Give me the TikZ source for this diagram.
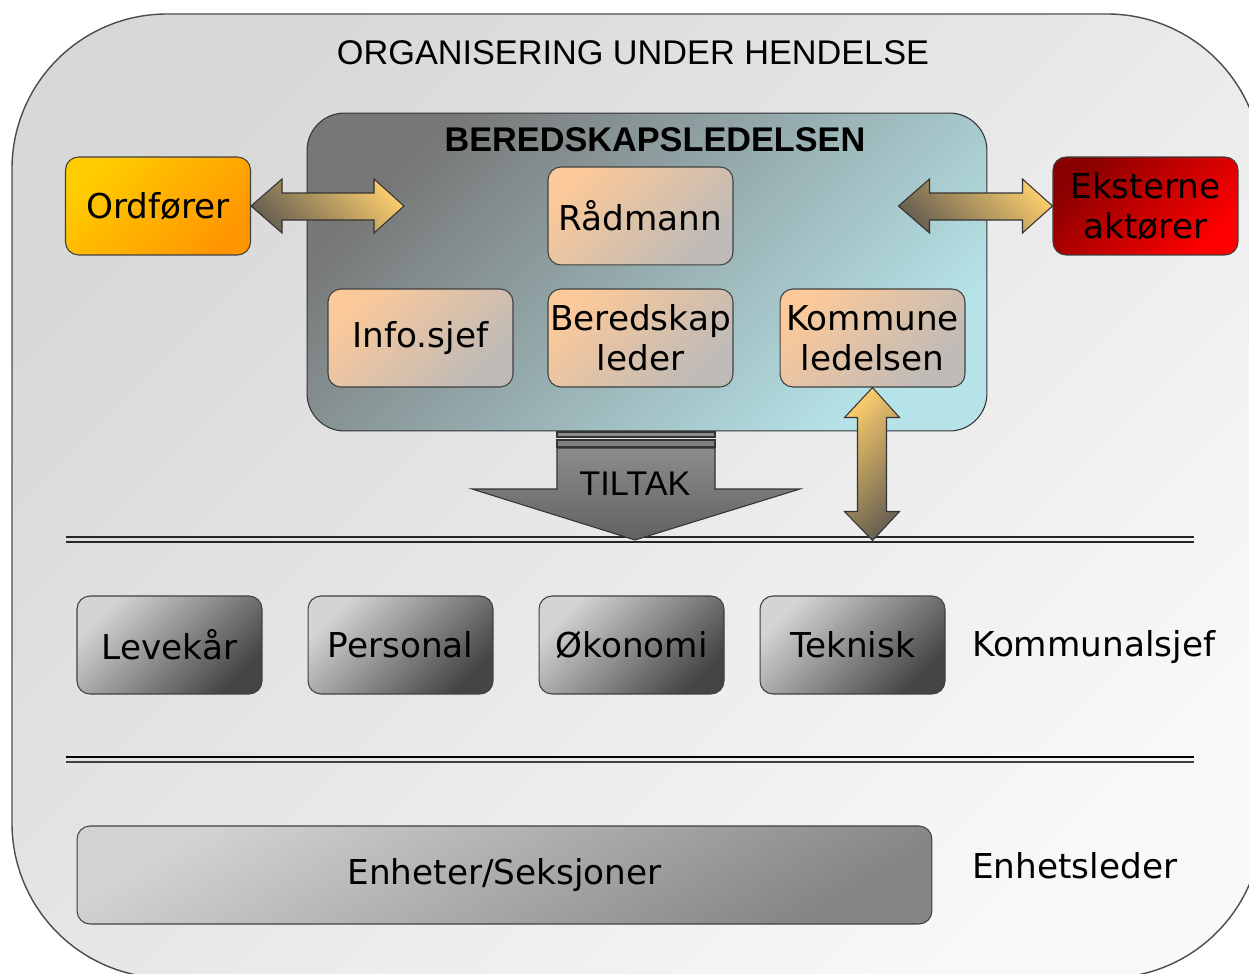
\documentclass[tikz,border=0pt]{standalone}
\usepackage{fontspec}
\setmainfont{DejaVu Sans}
\newfontfamily\arialfont{Liberation Sans}
\usetikzlibrary{positioning,calc}

\definecolor{outerA}{HTML}{D8D8D8}
\definecolor{outerB}{HTML}{F8F8F8}
\definecolor{beredA}{HTML}{777777}
\definecolor{beredB}{HTML}{B6E3E8}
\definecolor{peachA}{HTML}{FBC99A}
\definecolor{peachB}{HTML}{BDBAB8}
\definecolor{ordA}{HTML}{FFCC00}
\definecolor{ordB}{HTML}{FF9600}
\definecolor{eksA}{HTML}{8A0000}
\definecolor{eksB}{HTML}{FF0000}
\definecolor{unitA}{HTML}{D4D4D4}
\definecolor{unitB}{HTML}{454545}
\definecolor{enhA}{HTML}{D2D2D2}
\definecolor{enhB}{HTML}{858585}
\definecolor{goldA}{HTML}{F7CA6C}
\definecolor{goldB}{HTML}{6B6252}

\begin{document}
\begin{tikzpicture}[x=0.02cm, y=-0.02cm,
  txt/.style={font=\fontsize{19.5}{23}\selectfont},
  box/.style={txt, draw=black!75, line width=0.6pt, rounded corners=0.26cm,
    minimum width=3.7cm, minimum height=1.96cm, inner sep=0pt, align=center},
  peachbox/.style={box, top color=peachA, bottom color=peachB, shading angle=45},
  unitbox/.style={box, top color=unitA, bottom color=unitB, shading angle=45},
  fatarrow/.style={draw=black!80, line width=0.6pt, top color=goldA, bottom color=goldB},
  sepline/.style={black!85, line width=0.9pt}]
  \useasboundingbox (0,0) rectangle (1249,974);
  \clip (0,0) rectangle (1249,974);

  % outer frame
  \draw[black!70, line width=0.8pt, top color=outerA, bottom color=outerB, shading angle=45,
    rounded corners=3.1cm] (12,14) rectangle (1262,978);
  \node[font=\arialfont\fontsize{19.5}{23}\selectfont] (title) at (633,53) {ORGANISERING UNDER HENDELSE};

  % beredskapsledelsen
  \node[draw=black!80, line width=0.6pt, rounded corners=0.75cm, minimum width=13.6cm,
    minimum height=6.36cm, top color=beredA, bottom color=beredB, shading angle=45] (bered) at (647,272) {};
  \node[font=\arialfont\bfseries\fontsize{19.5}{23}\selectfont] (beredtitle) at (655,140) {BEREDSKAPSLEDELSEN};

  \node[peachbox] (bled) at (640.5,338) {Beredskap\\leder};
  \node[peachbox, above=0.46cm of bled] (rad) {Rådmann};
  \node[peachbox, left=0.68cm of bled] (info) {Info.sjef};
  \node[peachbox, right=0.92cm of bled] (kom) {Kommune\\ledelsen};

  \node[box, top color=ordA, bottom color=ordB, shading angle=45] (ord) at (158,206) {Ordfører};
  \node[box, top color=eksA, bottom color=eksB, shading angle=45] (eks) at (1145.5,206) {Eksterne\\aktører};

  % separator lines
  \coordinate (l1w) at (66,537);
  \coordinate (l1e) at (1194,537);
  \draw[sepline] (l1w) -- (l1e);
  \draw[sepline] ($(l1w)+(0,5)$) -- ($(l1e)+(0,5)$);
  \coordinate (l2w) at (66,757);
  \coordinate (l2e) at (1194,757);
  \draw[black, line width=1.4pt] (l2w) -- (l2e);
  \draw[black!75, line width=0.9pt] ($(l2w)+(0,5)$) -- ($(l2e)+(0,5)$);

  % arrows
  \draw[fatarrow, shading angle=-45] (ord.east) -- ++(31,-27) -- ++(0,14) -- ++(92,0) -- ++(0,-14)
    -- ++(30,27) -- ++(-30,27) -- ++(0,-13) -- ++(-92,0) -- ++(0,13) -- cycle;
  \draw[fatarrow, shading angle=-45] (eks.west) -- ++(-30,-27) -- ++(0,14) -- ++(-93,0) -- ++(0,-14)
    -- ++(-31,27) -- ++(31,27) -- ++(0,-13) -- ++(93,0) -- ++(0,13) -- cycle;
  \draw[fatarrow, shading angle=45] (kom.south) -- ++(27,30) -- ++(-13,0) -- ++(0,94) -- ++(13,0)
    -- ++(-27,29) -- ++(-28,-29) -- ++(13,0) -- ++(0,-94) -- ++(-13,0) -- cycle;

  % tiltak
  \coordinate (tip) at (635,540);
  \draw[black!80, line width=0.6pt, fill=black!45] (557,432) rectangle (715,437);
  \draw[black!80, line width=0.6pt, fill=black!50] (557,440) rectangle (715,447);
  \draw[black!80, line width=0.6pt, top color=black!45, bottom color=black!62]
    (557,448) -- (715,448) -- (715,489) -- (800,489) -- (tip) -- (472,489) -- (557,489) -- cycle;
  \node[font=\arialfont\fontsize{19.5}{23}\selectfont] (tiltak) at (635,484) {TILTAK};

  % kommunalsjef
  \node[unitbox] (lev) at (169.5,645) {Levekår};
  \node[unitbox, right=0.9cm of lev] (pers) {Personal};
  \node[unitbox, right=0.9cm of pers] (oko) {Økonomi};
  \node[unitbox, right=0.7cm of oko] (tek) {Teknisk};
  \node[txt, anchor=west] (ksjef) at (966,647) {Kommunalsjef};

  % enheter
  \node[box, minimum width=17.1cm, top color=enhA, bottom color=enhB, shading angle=30] (enh) at (504.5,875) {Enheter/Seksjoner};
  \node[txt, anchor=west] (eleder) at (966,866) {Enhetsleder};
\end{tikzpicture}
\end{document}
